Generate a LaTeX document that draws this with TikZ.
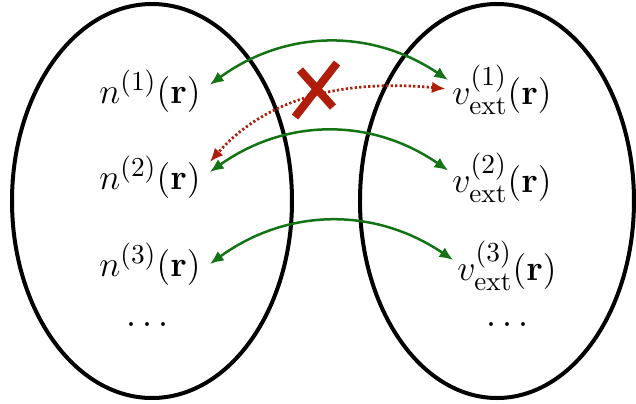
\documentclass[tikz,border=0pt]{standalone}
\usepackage{amsmath,amssymb}
\usetikzlibrary{arrows.meta,positioning}
\definecolor{mapgreen}{RGB}{20,115,20}
\definecolor{failred}{RGB}{175,30,10}

\begin{document}
\begin{tikzpicture}[x=0.4pt,y=0.4pt,
  space/.style={line width=1.6pt},
  lbl/.style={inner sep=1.5pt,font=\fontsize{15.5}{18}\selectfont},
  link/.style={mapgreen,line width=1pt,{Latex[length=5.5pt,width=4.6pt]}-{Latex[length=5.5pt,width=4.6pt]}},
  nolink/.style={failred,line width=1.1pt,dash pattern=on 0.9pt off 0.9pt,{Latex[length=5.5pt,width=4.6pt]}-{Latex[length=5.5pt,width=4.6pt]}}]
\useasboundingbox (0,0) rectangle (636,403);
% the two sets
\draw[space] (152,202) ellipse [x radius=56pt, y radius=78.8pt];
\draw[space] (497,202) ellipse [x radius=54.8pt, y radius=78.8pt];
% densities
\node[lbl] (n1) at (150,312) {$n^{(1)}(\mathbf{r})$};
\node[lbl] (n2) at (150,226) {$n^{(2)}(\mathbf{r})$};
\node[lbl] (n3) at (150,139) {$n^{(3)}(\mathbf{r})$};
\node[lbl] (nd) at (151,78) {$\cdots$};
% potentials
\node[lbl] (v1) at (502,313) {$v_{\text{ext}}^{(1)}(\mathbf{r})$};
\node[lbl] (v2) at (502,225) {$v_{\text{ext}}^{(2)}(\mathbf{r})$};
\node[lbl] (v3) at (507,137) {$v_{\text{ext}}^{(3)}(\mathbf{r})$};
\node[lbl] (vd) at (511,78) {$\cdots$};
% one-to-one maps
\draw[link] ([xshift=2pt,yshift=2.5pt]n1.east) to[bend left=35] ([yshift=4pt]v1.west);
\draw[link] ([xshift=2pt,yshift=2pt]n2.east) to[bend left=35] ([yshift=3pt]v2.west);
\draw[link] ([xshift=2pt]n3.east) to[bend left=35] ([yshift=2.4pt]v3.west);
% forbidden map
\draw[nolink] ([xshift=-1pt,yshift=0.5pt]v1.west) .. controls (330,325) and (260,298) .. ([xshift=2pt,yshift=6pt]n2.east);
\draw[failred,line width=3.2pt] (300,333) -- (333,296);
\draw[failred,line width=3.2pt] (337,340) -- (295,286);
\end{tikzpicture}
\end{document}
